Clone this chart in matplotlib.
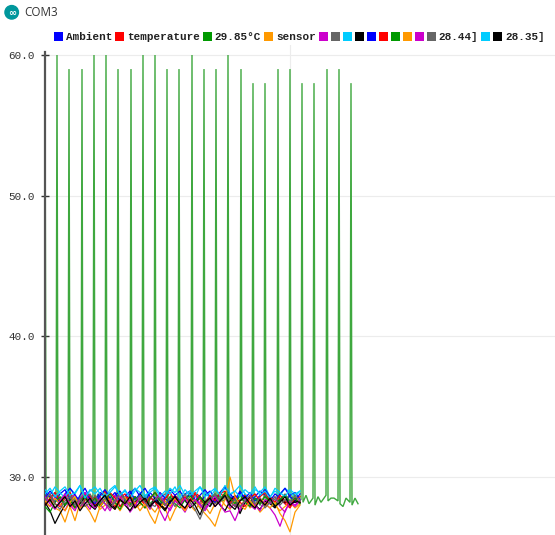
import matplotlib
matplotlib.use("Agg")
import matplotlib.pyplot as plt
from matplotlib.patches import Rectangle, Ellipse
import numpy as np

# ---------------- data ----------------
series_labels = ["Ambient", "temperature", "29.85°C", "sensor", "", "", "", "",
                 "", "", "", "", "", "28.44]", "", "28.35]"]
palette = ["#0000ff", "#ff0000", "#009900", "#ff9900",
           "#cc00cc", "#666666", "#00ccff", "#000000"]

y_ticks = [30.0, 40.0, 50.0, 60.0]
y_tick_labels = ["30.0", "40.0", "50.0", "60.0"]

# spiky green series (sample position, value)
green_t = [0, 1, 4, 7, 11, 12, 13, 16, 19, 23, 24, 25, 28, 31, 36, 37, 38, 41, 44, 48,
           49, 50, 53, 56, 60, 61, 62, 65, 68, 72, 73, 74, 77, 80, 85, 86, 87, 90, 93, 97,
           98, 99, 102, 105, 109, 110, 111, 114, 117, 121, 122, 123, 126, 129, 133,
           134, 135, 138, 141, 146, 147, 148, 151, 154, 158, 159, 160, 163, 166, 170,
           171, 172, 175, 178, 182, 183, 184, 187, 190, 195, 196, 197, 200, 203, 207,
           208, 209, 212, 215, 219, 220, 221, 224, 227, 232, 233, 234, 237, 240, 244,
           245, 246, 249, 252, 256, 257, 258, 261, 264, 268, 269, 270, 273, 276, 281,
           282, 283, 286, 289, 293, 294, 295, 298, 301, 305, 306, 307, 310, 313]
green_v = [60.0, 28.3, 28.7, 28.1, 28.5, 60.0, 28.2, 28.6, 28.0, 28.4, 59.0, 28.1, 28.7, 28.3, 28.6,
           59.0, 28.0, 28.5, 28.2, 28.7, 60.0, 28.3, 28.8, 28.1, 28.5, 60.0, 28.2, 28.6, 28.0, 28.4,
           59.0, 28.1, 28.7, 28.3, 28.5, 59.0, 28.0, 28.6, 28.2, 28.7, 60.0, 28.3, 28.8, 28.1, 28.4,
           60.0, 28.2, 28.5, 28.0, 28.6, 59.0, 28.1, 28.7, 28.3, 28.5, 59.0, 28.0, 28.6, 28.2, 28.7,
           60.0, 28.3, 28.8, 28.1, 28.4, 59.0, 28.2, 28.5, 28.0, 28.6, 59.0, 28.1, 28.7, 28.3, 28.5,
           60.0, 28.0, 28.6, 28.2, 28.7, 59.0, 28.3, 28.8, 28.1, 28.4, 58.0, 28.2, 28.5, 28.0, 28.6,
           58.0, 28.1, 28.7, 28.3, 28.5, 59.0, 28.0, 28.6, 28.2, 28.7, 59.0, 28.3, 28.8, 28.1, 28.4,
           58.0, 28.2, 28.7, 28.1, 28.5, 58.0, 28.0, 28.6, 28.2, 28.7, 59.0, 28.3, 28.5, 28.5, 28.3,
           59.0, 28.1, 27.9, 28.5, 28.2, 58.0, 28.0, 28.5, 28.1]

# noisy series, one value every 5 samples
blue1 = [28.9, 28.6, 28.2, 28.8, 29.1, 28.4, 28.0, 28.7, 29.2, 28.5,
         28.3, 28.9, 28.6, 28.1, 28.7, 29.0, 28.4, 28.8, 29.2, 28.6,
         28.2, 28.9, 28.5, 28.0, 28.6, 29.1, 28.7, 28.3, 28.8, 29.0,
         28.4, 28.1, 28.7, 29.0, 28.5, 28.8, 29.3, 28.6, 28.2, 28.9,
         28.4, 28.0, 28.6, 29.0, 28.7, 28.3, 28.8, 28.5, 28.1, 28.7, 28.9, 28.4]
red1 = [28.4, 28.8, 28.1, 27.9, 28.5, 28.9, 28.2, 27.8, 28.4, 28.7,
        28.0, 28.6, 29.0, 28.3, 27.9, 28.5, 28.8, 28.1, 28.6, 28.2,
        27.8, 28.4, 28.9, 28.5, 28.0, 28.3, 28.7, 28.1, 27.7, 28.4,
        28.9, 28.6, 28.0, 28.5, 28.2, 28.8, 29.0, 28.4, 27.9, 28.3,
        28.7, 28.2, 27.8, 28.6, 28.9, 28.3, 28.0, 28.5, 28.1, 27.8, 28.4, 28.6]
orange1 = [28.1, 28.5, 27.8, 27.6, 26.8, 27.9, 26.9, 28.2, 28.6, 27.9,
           28.3, 27.7, 28.0, 28.5, 28.1, 27.6, 28.2, 28.7, 27.8, 28.0,
           28.4, 27.9, 27.5, 28.1, 27.8, 26.9, 27.7, 28.3, 28.6, 28.0,
           27.6, 28.2, 27.9, 27.4, 28.1, 28.5, 28.0, 27.7, 28.3, 27.9,
           28.4, 27.8, 28.1, 27.5, 27.9, 28.3, 28.0, 27.6, 27.9, 28.2, 27.8, 28.1]
magenta1 = [28.3, 27.9, 28.6, 28.0, 27.6, 28.4, 28.8, 27.8, 28.2, 27.7,
            28.5, 28.1, 27.6, 28.3, 28.7, 27.9, 28.4, 27.5, 28.0, 28.6,
            28.2, 27.8, 28.3, 27.6, 26.9, 27.8, 28.4, 28.0, 27.5, 28.2,
            28.7, 28.1, 27.7, 28.4, 27.9, 28.3, 28.6, 27.8, 28.1, 27.6,
            28.4, 28.0, 27.7, 28.5, 28.1, 27.8, 27.3, 26.5, 27.6, 28.2, 27.9, 28.3]
gray1 = [28.6, 28.2, 28.9, 28.4, 28.0, 28.7, 28.3, 27.9, 28.5, 28.8,
         28.2, 28.6, 28.1, 27.8, 28.4, 28.9, 28.3, 28.0, 28.6, 28.2,
         28.7, 28.1, 27.9, 28.5, 28.8, 28.2, 28.6, 28.0, 28.4, 28.9,
         28.3, 27.8, 28.2, 28.7, 28.1, 28.5, 28.8, 28.3, 27.9, 28.4,
         28.6, 28.1, 28.5, 28.0, 28.7, 28.2, 27.9, 28.4, 28.8, 28.3, 28.5, 28.1]
cyan1 = [29.1, 28.7, 29.3, 28.9, 28.5, 29.2, 28.8, 29.4, 28.6, 29.0,
         29.3, 28.8, 28.5, 29.1, 29.4, 28.7, 29.0, 28.6, 29.2, 28.9,
         28.5, 29.1, 29.3, 28.8, 28.6, 29.2, 28.9, 29.4, 28.7, 29.0,
         28.6, 29.3, 28.9, 28.5, 29.1, 28.8, 29.2, 28.7, 29.0, 29.4,
         28.8, 28.5, 29.1, 28.9, 29.3, 28.6, 29.0, 28.7, 29.2, 28.9, 28.6, 29.0]
black1 = [28.2, 27.6, 26.7, 27.4, 28.0, 28.4, 27.8, 28.1, 28.6, 28.0,
          27.7, 28.3, 28.7, 28.1, 27.8, 28.4, 28.0, 27.6, 28.2, 28.8,
          28.3, 27.9, 28.5, 28.1, 27.7, 28.3, 28.6, 28.0, 28.4, 27.8,
          28.1, 28.6, 28.2, 27.9, 28.5, 28.0, 27.6, 28.3, 28.7, 27.4,
          28.2, 28.6, 28.0, 27.7, 28.3, 28.1, 27.8, 28.4, 28.2, 28.2, 28.2, 28.2]
blue2 = [28.5, 29.0, 28.6, 28.2, 28.8, 29.2, 28.7, 28.3, 28.9, 28.4,
         28.1, 28.7, 29.1, 28.5, 28.9, 28.3, 28.6, 29.0, 28.4, 28.8,
         29.2, 28.6, 28.2, 28.9, 28.5, 28.1, 28.7, 29.0, 28.4, 28.8,
         28.3, 28.7, 29.1, 28.6, 28.2, 28.9, 29.3, 28.8, 28.4, 29.0,
         28.5, 28.9, 28.3, 28.7, 29.1, 28.6, 28.2, 28.8, 29.2, 28.6, 28.3, 28.8]
red2 = [28.0, 28.5, 28.9, 28.3, 28.6, 28.1, 27.8, 28.4, 28.8, 28.2,
        28.6, 28.0, 28.4, 28.9, 28.5, 27.9, 28.3, 28.7, 28.1, 28.5,
        28.0, 28.6, 28.2, 27.8, 28.4, 28.9, 28.3, 28.0, 28.6, 28.2,
        28.8, 28.4, 28.0, 28.7, 28.3, 28.9, 28.5, 28.1, 28.6, 28.2,
        27.9, 28.5, 28.8, 28.3, 28.0, 28.6, 28.2, 28.7, 28.3, 27.9, 28.5, 28.2]
green2 = [27.9, 27.5, 28.2, 28.6, 28.0, 28.4, 27.8, 28.3, 28.7, 28.1,
          28.5, 27.9, 28.3, 28.8, 28.2, 27.7, 28.4, 28.0, 28.6, 28.2,
          27.8, 28.5, 28.9, 28.3, 28.0, 28.6, 28.1, 27.8, 28.4, 28.7,
          28.2, 28.6, 28.0, 28.4, 28.8, 28.3, 28.9, 28.5, 28.1, 28.7,
          28.2, 27.9, 28.5, 28.1, 28.6, 28.3, 28.0, 28.4, 28.7, 28.2, 28.5, 28.1]
orange2 = [28.3, 27.9, 28.5, 28.1, 27.6, 28.2, 28.6, 27.8, 28.0, 27.5,
           26.8, 27.9, 28.4, 28.0, 27.7, 28.3, 28.6, 27.9, 28.2, 27.6,
           28.1, 27.3, 26.7, 27.8, 28.3, 27.9, 28.5, 28.0, 27.6, 28.2,
           28.4, 27.8, 27.4, 27.0, 26.5, 27.6, 28.4, 30.0, 28.6, 28.0,
           27.7, 28.3, 27.9, 28.5, 28.1, 27.8, 28.2, 27.4, 26.9, 26.1, 27.5, 28.0]
magenta2 = [28.6, 28.1, 27.7, 28.3, 28.8, 28.0, 27.6, 28.4, 28.9, 28.2,
            27.8, 28.5, 28.1, 27.6, 28.3, 28.7, 28.0, 28.4, 27.9, 28.6,
            28.2, 27.7, 28.4, 28.8, 28.1, 27.6, 28.3, 28.0, 28.5, 27.9,
            28.4, 28.0, 27.6, 28.2, 28.6, 28.1, 27.5, 27.6, 26.9, 27.8,
            28.3, 28.7, 28.0, 27.6, 28.4, 28.1, 28.6, 27.9, 27.5, 28.3, 28.0, 28.4]
gray2 = [28.4, 28.8, 28.1, 27.7, 28.3, 28.6, 28.0, 28.5, 27.9, 28.2,
         28.7, 28.1, 28.5, 27.8, 28.2, 28.9, 28.4, 27.9, 28.3, 28.7,
         28.2, 27.8, 28.4, 28.6, 28.0, 28.5, 27.9, 28.3, 28.8, 28.2,
         27.7, 27.0, 27.9, 28.4, 28.8, 28.2, 28.6, 28.0, 28.4, 27.9,
         28.3, 28.7, 28.1, 28.5, 27.8, 28.2, 28.6, 28.0, 28.4, 28.1, 28.7, 28.3]
cyan2 = [28.8, 29.2, 28.6, 29.0, 29.3, 28.7, 28.9, 29.4, 28.5, 29.1,
         28.8, 29.2, 28.6, 28.9, 29.3, 28.7, 29.1, 28.5, 29.0, 29.4,
         28.7, 28.9, 29.2, 28.6, 29.0, 28.8, 29.3, 28.5, 29.1, 28.7,
         29.0, 29.3, 28.6, 28.9, 29.2, 28.7, 29.4, 28.8, 29.0, 28.6,
         29.1, 28.8, 29.3, 28.7, 29.0, 28.5, 29.2, 28.9, 28.6, 29.1, 28.8, 29.0]
black2 = [28.0, 28.4, 27.8, 28.2, 28.6, 27.9, 28.3, 27.6, 28.1, 28.5,
          27.9, 28.3, 28.7, 28.0, 27.7, 28.4, 28.1, 28.6, 27.8, 28.2,
          28.5, 27.9, 28.3, 28.0, 27.6, 28.2, 28.6, 28.1, 27.8, 28.4,
          28.0, 27.3, 28.2, 28.5, 27.9, 28.3, 28.7, 28.0, 27.7, 28.3,
          28.6, 28.1, 27.8, 28.4, 28.0, 28.5, 27.9, 28.2, 28.6, 28.0, 28.3, 28.2]

noise_series = [blue1, red1, None, orange1, magenta1, gray1, cyan1, black1,
                blue2, red2, green2, orange2, magenta2, gray2, cyan2, black2]
noise_step = 5

# ---------------- figure ----------------
W, H = 555, 535
fig = plt.figure(figsize=(W / 100, H / 100), dpi=100)
fig.patch.set_facecolor("white")


def fx(px):
    return px / W


def fy(py):
    return 1 - py / H


mono = ["Liberation Mono", "DejaVu Sans Mono"]

ax_left_px, ax_top_px = 45, 45
ax = fig.add_axes([fx(ax_left_px), 0, 1 - fx(ax_left_px), (H - ax_top_px) / H])
px_per_unit = 14.067
y_top = 60 + (55 - ax_top_px) / px_per_unit
y_bot = 30 - (H - 477) / px_per_unit
ax.set_ylim(y_bot, y_top)
ax.set_xlim(0, W - ax_left_px)

# grid
for yv in y_ticks:
    ax.axhline(yv, color="#ececec", lw=0.8, zorder=0)
ax.axvline(245, color="#ececec", lw=0.8, zorder=0)

# series
for i, vals in enumerate(noise_series):
    col = palette[i % len(palette)]
    if i == 2:
        ax.plot(green_t, green_v, color="#3fa83f", lw=1.0, zorder=2,
                solid_joinstyle="miter")
        continue
    xs = np.arange(len(vals)) * noise_step
    ax.plot(xs, vals, color=col, lw=0.9, zorder=3 + i * 0.01)

# axes styling
for s in ["top", "right", "bottom"]:
    ax.spines[s].set_visible(False)
ax.spines["left"].set_color("#555555")
ax.spines["left"].set_linewidth(1.6)
ax.spines["left"].set_bounds(y_bot, 60 + 3 / px_per_unit)
ax.set_xticks([])
ax.set_yticks(y_ticks)
ax.set_yticklabels(y_tick_labels, fontfamily=mono, fontsize=7.9, color="#333333")
ax.tick_params(axis="y", direction="inout", length=5.8, width=1.0,
               color="#333333", pad=4.6)
ax.set_facecolor("white")

# title bar
fig.add_artist(Ellipse((fx(11.7), fy(12.3)), 13.5 / W, 13.5 / H,
                       transform=fig.transFigure, color="#00979c"))
fig.text(fx(11.7), fy(12.6), "∞", color="white", fontsize=7, ha="center",
         va="center", fontweight="bold")
fig.text(fx(24), fy(12.5), "COM3", fontsize=8.4, family="Open Sans",
         color="#333333", va="center", ha="left")

# legend
char_w = 6.6
x = 54.0
sq = 9.0
yc = 36.5
for i, lab in enumerate(series_labels):
    col = palette[i % len(palette)]
    fig.add_artist(Rectangle((fx(x), fy(yc + sq / 2)), sq / W, sq / H,
                             transform=fig.transFigure, color=col, lw=0))
    x += 12
    if lab:
        fig.text(fx(x), fy(yc), lab, family=mono, fontsize=7.9, color="#222222",
                 va="center", ha="left", fontweight="bold")
        x += len(lab) * char_w + 3

fig.savefig("out.png", dpi=100)
